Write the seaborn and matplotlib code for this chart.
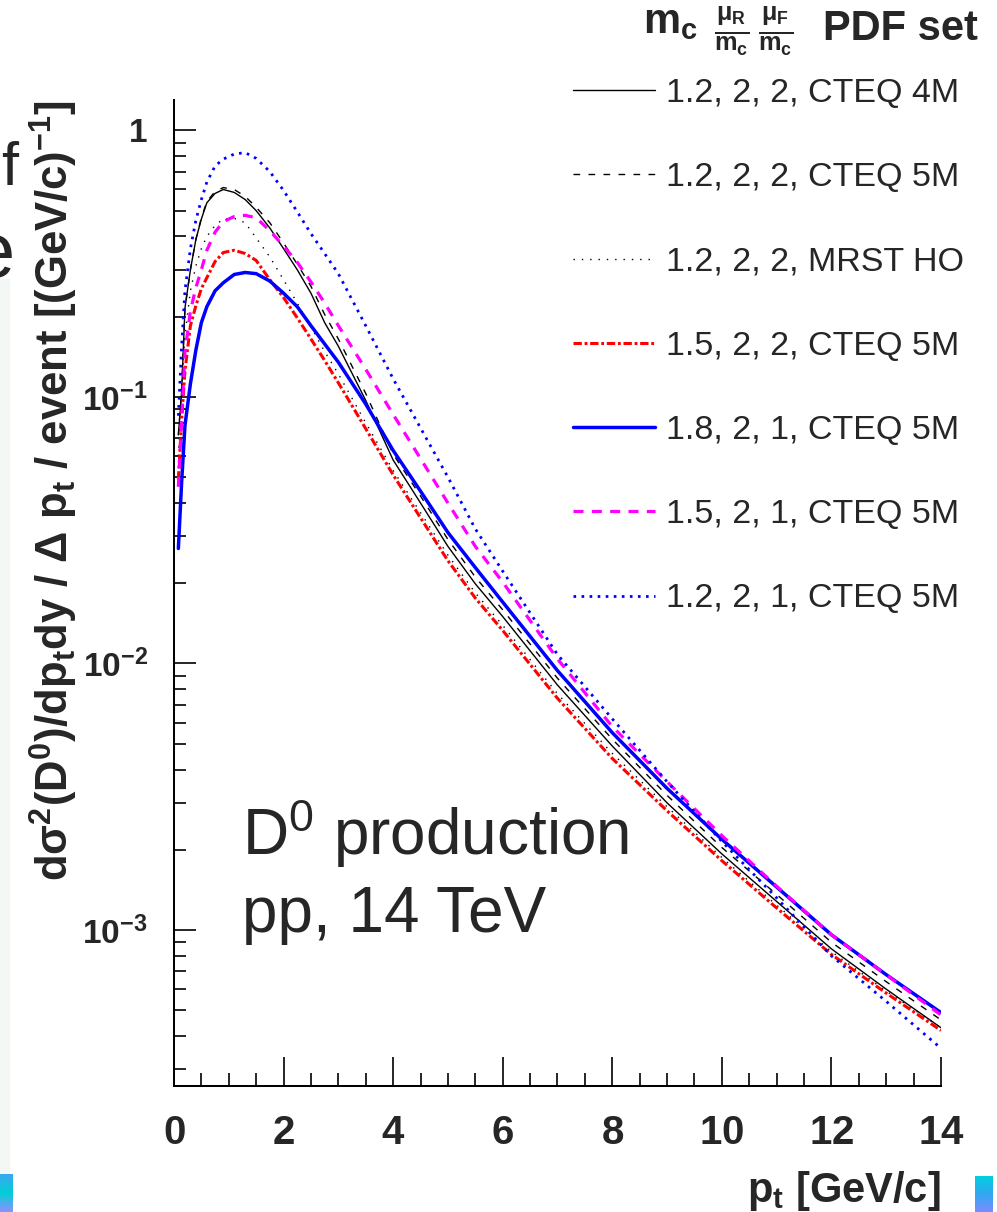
import numpy as np
import pandas as pd
import seaborn as sns
import matplotlib.pyplot as plt
from matplotlib import ticker
from matplotlib.patches import Rectangle
from matplotlib.colors import LinearSegmentedColormap

# D0 pt spectra, pp 14 TeV
pt = [0.08, 0.14, 0.2, 0.3, 0.4, 0.5, 0.6, 0.75, 0.9, 1.1, 1.3, 1.5, 1.75, 2.0, 2.25, 2.5,
      2.75, 3.0, 3.5, 4.0, 4.5, 5.0, 5.5, 6.0, 7.0, 8.0, 9.0, 10.0, 11.0, 12.0, 13.0, 14.0]

cteq4m_122 = [0.072, 0.105, 0.215, 0.30, 0.39, 0.465, 0.535, 0.58, 0.60, 0.585, 0.55, 0.50, 0.43, 0.36, 0.30, 0.245,
              0.19, 0.155, 0.097, 0.058, 0.040, 0.0275, 0.0199, 0.0150, 0.0083, 0.0049, 0.0030, 0.00193, 0.00128, 0.00085, 0.00060, 0.00043]
cteq5m_122 = [0.072, 0.105, 0.215, 0.30, 0.39, 0.47, 0.54, 0.59, 0.61, 0.60, 0.565, 0.515, 0.45, 0.378, 0.315, 0.26,
              0.204, 0.165, 0.103, 0.061, 0.0425, 0.0292, 0.0211, 0.0159, 0.0088, 0.0052, 0.0032, 0.00204, 0.00136, 0.00090, 0.00064, 0.00046]
mrst_122 = [0.06, 0.11, 0.17, 0.25, 0.31, 0.36, 0.40, 0.44, 0.465, 0.468, 0.45, 0.395, 0.335, 0.275, 0.225, 0.183,
            0.148, 0.122, 0.080, 0.053, 0.0368, 0.0255, 0.0184, 0.0139, 0.0077, 0.0046, 0.0029, 0.00187, 0.00124, 0.00083, 0.00059, 0.00043]
cteq5m_1522 = [0.049, 0.082, 0.125, 0.185, 0.22, 0.255, 0.28, 0.322, 0.348, 0.355, 0.345, 0.325, 0.275, 0.236, 0.198, 0.165,
               0.137, 0.113, 0.076, 0.051, 0.0352, 0.0243, 0.0176, 0.0133, 0.0074, 0.0044, 0.0028, 0.00182, 0.00121, 0.00081, 0.00058, 0.00042]
cteq5m_1821 = [0.027, 0.048, 0.078, 0.112, 0.15, 0.19, 0.218, 0.25, 0.268, 0.288, 0.293, 0.29, 0.272, 0.245, 0.218, 0.185,
               0.158, 0.135, 0.094, 0.063, 0.0443, 0.031, 0.0229, 0.0170, 0.0094, 0.0055, 0.0034, 0.00219, 0.00145, 0.00096, 0.00068, 0.00049]
cteq5m_1521 = [0.046, 0.082, 0.147, 0.21, 0.257, 0.30, 0.355, 0.415, 0.455, 0.475, 0.48, 0.47, 0.42, 0.368, 0.32, 0.27,
               0.225, 0.185, 0.127, 0.086, 0.0587, 0.040, 0.0275, 0.0202, 0.0104, 0.0058, 0.0036, 0.00226, 0.00146, 0.00096, 0.00068, 0.00048]
cteq5m_1221 = [0.085, 0.155, 0.25, 0.36, 0.46, 0.55, 0.64, 0.735, 0.78, 0.815, 0.825, 0.785, 0.70, 0.595, 0.495, 0.41,
               0.345, 0.29, 0.185, 0.117, 0.0765, 0.050, 0.032, 0.0222, 0.0108, 0.0062, 0.0036, 0.00215, 0.00132, 0.00080, 0.00054, 0.00036]

labels = ['1.2, 2, 2, CTEQ 4M', '1.2, 2, 2, CTEQ 5M', '1.2, 2, 2, MRST HO', '1.5, 2, 2, CTEQ 5M',
          '1.8, 2, 1, CTEQ 5M', '1.5, 2, 1, CTEQ 5M', '1.2, 2, 1, CTEQ 5M']
series = [cteq4m_122, cteq5m_122, mrst_122, cteq5m_1522, cteq5m_1821, cteq5m_1521, cteq5m_1221]

colors = ['black', 'black', 'black', '#ff0000', '#0000ff', '#ff00ff', '#0000ff']
widths = [1.0, 1.0, 1.0, 2.2, 2.5, 2.3, 2.0]
dash_list = ['', (4.8, 6.0), (1.0, 5.0), (6.0, 2.0, 2.0, 2.0), '', (7.2, 6.0), (1.9, 3.9)]

df = pd.concat([pd.DataFrame({'pt': pt, 'val': s, 'set': lab}) for s, lab in zip(series, labels)])

sns.set_style('ticks')
plt.rcParams['font.family'] = ['Liberation Sans', 'DejaVu Sans']
plt.rcParams['mathtext.fontset'] = 'custom'
plt.rcParams['mathtext.rm'] = 'Liberation Sans'
plt.rcParams['mathtext.it'] = 'Liberation Sans:italic'
plt.rcParams['mathtext.bf'] = 'Liberation Sans:bold'
plt.rcParams['mathtext.sf'] = 'Liberation Sans'
plt.rcParams['lines.scale_dashes'] = False

fig = plt.figure(figsize=(9.97, 12.12), dpi=100)
ax = fig.add_axes([0.1745, 0.104, 0.7693, 0.8135])

sns.lineplot(data=df, x='pt', y='val', hue='set', style='set', size='set',
             hue_order=labels, style_order=labels, size_order=labels,
             palette=dict(zip(labels, colors)), dashes=dict(zip(labels, dash_list)),
             sizes=dict(zip(labels, widths)), errorbar=None, legend=False, ax=ax)

ax.set_yscale('log')
ax.set_xlim(0, 14)
ax.set_ylim(2.6e-4, 1.30)

for sp in ['top', 'right']:
    ax.spines[sp].set_visible(False)
for sp in ['left', 'bottom']:
    ax.spines[sp].set_linewidth(1.45)
    ax.spines[sp].set_color('black')

ax.xaxis.set_major_locator(ticker.MultipleLocator(2))
ax.xaxis.set_minor_locator(ticker.MultipleLocator(0.5))
ax.xaxis.set_major_formatter(ticker.FuncFormatter(lambda v, p: r'$\mathbf{%d}$' % int(round(v))))
ax.yaxis.set_major_locator(ticker.LogLocator(base=10, numticks=10))
ax.yaxis.set_minor_locator(ticker.LogLocator(base=10, subs=np.arange(2, 10), numticks=20))
ax.yaxis.set_minor_formatter(ticker.NullFormatter())

def yfmt(v, p):
    e = int(round(np.log10(v)))
    if e == 0:
        return r'$\mathbf{1}$'
    return r'$\mathbf{10^{%d}}$' % e

ax.yaxis.set_major_formatter(ticker.FuncFormatter(yfmt))
ax.tick_params(axis='x', which='major', direction='in', length=21, width=1.4, labelsize=29, pad=20)
ax.tick_params(axis='x', which='minor', direction='in', length=9.7, width=1.4)
ax.tick_params(axis='y', which='major', direction='in', length=16, width=1.4, labelsize=24, pad=19)
ax.tick_params(axis='y', which='minor', direction='in', length=8.6, width=1.4)

ax.set_xlabel(r'$\mathbf{p_{t}}$ [GeV/c]', fontsize=30, fontweight='bold', ha='right', va='top')
ax.xaxis.set_label_coords(1.0, -0.084)
ax.set_ylabel(r'$\mathbf{d\sigma^{2}(D^{0})/dp_{t}dy\ /\ \Delta\ p_{t}\ /\ event\ [(GeV/c)^{-1}]}$',
              fontsize=31.4, va='center', ha='center')
ax.yaxis.set_label_coords(-0.157, 0.604)

# legend in the upper right, outside the frame
leg = ax.legend(ax.lines[:len(labels)], labels, loc='upper left', bbox_to_anchor=(0.5747, 0.9357),
                bbox_transform=fig.transFigure, frameon=False, fontsize=24.5, handlelength=2.41,
                handletextpad=0.32, labelspacing=1.565, borderpad=0, borderaxespad=0)

# legend header: m_c, mu_R/m_c, mu_F/m_c, PDF set
fig.text(0.645, 0.9728, r'$\mathbf{m_c}$', fontsize=30, va='baseline')
fig.text(0.716, 0.9744, r'$\mathbf{\frac{\mu_R}{m_c}}$', fontsize=26, va='center')
fig.text(0.760, 0.9744, r'$\mathbf{\frac{\mu_F}{m_c}}$', fontsize=26, va='center')
fig.text(0.981, 0.967, 'PDF set', fontsize=30, fontweight='bold', ha='right', va='baseline')

fig.text(0.2424, 0.2946, r'D$^{0}$ production', fontsize=46, va='baseline')
fig.text(0.2424, 0.2313, 'pp, 14 TeV', fontsize=46, va='baseline')

# bits of the surrounding slide
fig.text(0.001, 0.847, 'f', fontsize=44, va='baseline')
fig.text(-0.028, 0.7715, 'e', fontsize=56, va='baseline')
fig.add_artist(Rectangle((0, 0.032), 0.009, 0.738, transform=fig.transFigure, color='#f3f8f5', zorder=0))
grad = np.linspace(0, 1, 50).reshape(-1, 1)
cm_left = LinearSegmentedColormap.from_list('l', ['#3aa8f0', '#00cfd6', '#8f8fff'])
cm_right = LinearSegmentedColormap.from_list('r', ['#00d0e0', '#30a8f0', '#7a8cff'])
for box, cm in [([0.0, 0.0, 0.013, 0.031], cm_left), ([0.978, 0.0, 0.018, 0.030], cm_right)]:
    bax = fig.add_axes(box)
    bax.imshow(grad, aspect='auto', cmap=cm)
    bax.axis('off')

fig.savefig('out.png', dpi=100)
